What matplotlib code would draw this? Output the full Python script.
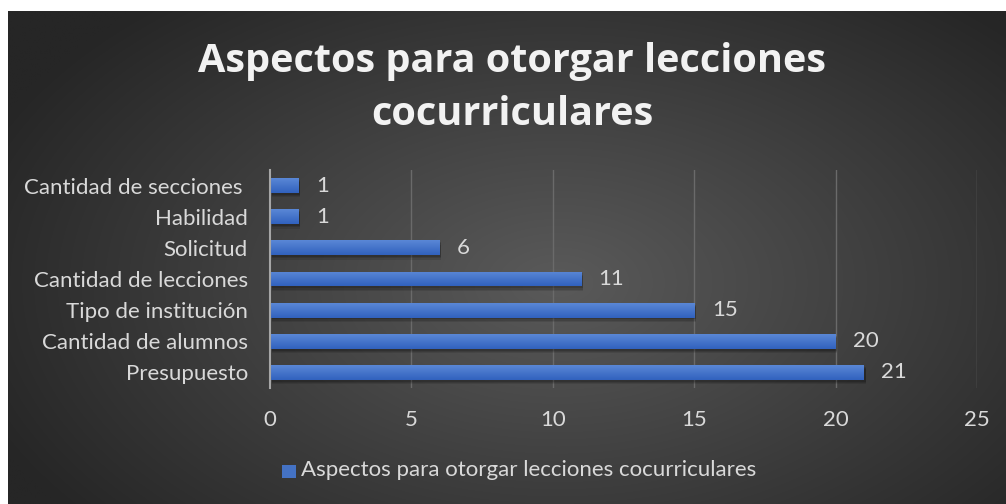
import numpy as np
import matplotlib
matplotlib.use("Agg")
import matplotlib.pyplot as plt
from matplotlib.patches import Rectangle

categories = ["Cantidad de secciones ", "Habilidad", "Solicitud", "Cantidad de lecciones",
              "Tipo de institución", "Cantidad de alumnos", "Presupuesto"]
values = [1, 1, 6, 11, 15, 20, 21]
xticks = [0, 5, 10, 15, 20, 25]
title = "Aspectos para otorgar lecciones\ncocurriculares"
series_name = "Aspectos para otorgar lecciones cocurriculares"

FONT = "Lato"
FS = 16
W, H = 1006, 504
fig = plt.figure(figsize=(W / 100, H / 100), dpi=100)
fig.patch.set_facecolor("white")

# background panel with radial gradient
bg = fig.add_axes([8 / W, 0, (W - 8) / W, (H - 11) / H])
bg.set_axis_off()
ny, nx = 300, 600
yy, xx = np.mgrid[0:ny, 0:nx]
cx, cy = nx * 0.55, ny * 0.55
r = np.sqrt(((xx - cx) / (nx * 0.62)) ** 2 + ((yy - cy) / (ny * 0.75)) ** 2)
r = np.clip(r, 0, 1)
c0 = np.array([0x5a, 0x5a, 0x5a]) / 255
c1 = np.array([0x26, 0x26, 0x26]) / 255
img = c0[None, None, :] * (1 - r[..., None]) + c1[None, None, :] * r[..., None]
bg.imshow(img, aspect="auto", extent=[0, 1, 0, 1], interpolation="bilinear")
bg.set_xlim(0, 1)
bg.set_ylim(0, 1)

ax = fig.add_axes([270 / W, 1 - 388 / H, (977 - 270) / W, (388 - 170) / H])
ax.patch.set_alpha(0)
n = len(categories)
ypos = np.arange(n)
ax.set_xlim(0, 25)
ax.set_ylim(n - 0.5, -0.5)

for x in xticks[1:]:
    ax.axvline(x, color="#6a6a6a", lw=1.0, zorder=0)

bh = 0.48
grad = np.linspace(0, 1, 50)[:, None]
bar_top = np.array([0x5a, 0x87, 0xd6]) / 255
bar_bot = np.array([0x31, 0x62, 0xbe]) / 255
gimg = bar_top[None, None, :] * (1 - grad[..., None]) + bar_bot[None, None, :] * grad[..., None]
bars = ax.barh(ypos, values, height=bh, color="#4472C4", zorder=2)
for b, v, y in zip(bars, values, ypos):
    # soft shadow
    for k, a in [(0.14, 0.10), (0.10, 0.12), (0.06, 0.14)]:
        ax.add_patch(Rectangle((0.06, y - bh / 2 + k), v, bh, color="black", alpha=a, lw=0, zorder=1))
    im = ax.imshow(gimg, extent=[0, v, y + bh / 2, y - bh / 2], aspect="auto", zorder=3)
    im.set_clip_path(b)
    ax.text(v + 0.62, y, str(v), va="center", ha="left", color="#d9d9d9",
            fontsize=FS, family=FONT, zorder=4)
ax.set_xlim(0, 25)
ax.set_ylim(n - 0.5, -0.5)

ax.set_yticks(ypos)
ax.set_yticklabels(categories, family=FONT, fontsize=FS, color="#d9d9d9")
ax.set_xticks(xticks)
ax.set_xticklabels([str(t) for t in xticks], family=FONT, fontsize=FS, color="#d9d9d9")
ax.tick_params(axis="y", length=0, pad=16)
ax.tick_params(axis="x", length=0, pad=16)
for s in ["top", "right", "bottom"]:
    ax.spines[s].set_visible(False)
ax.spines["left"].set_color("#a6a6a6")
ax.spines["left"].set_linewidth(1.5)
ax.spines["left"].set_zorder(5)

# title
fig.text(512 / W, 1 - 88 / H, title, ha="center", va="center", family="Open Sans",
         fontweight="bold", fontsize=28.5, color="#f2f2f2", linespacing=1.48)

# legend
fig.patches.append(Rectangle((282 / W, 1 - 478 / H), 14 / W, 13 / H, transform=fig.transFigure,
                             facecolor="#4472C4", edgecolor="none", figure=fig))
fig.text(301 / W, 1 - 470 / H, series_name, ha="left", va="center", family=FONT,
         fontsize=FS, color="#d9d9d9")

fig.savefig("out.png", dpi=100, facecolor="white")
